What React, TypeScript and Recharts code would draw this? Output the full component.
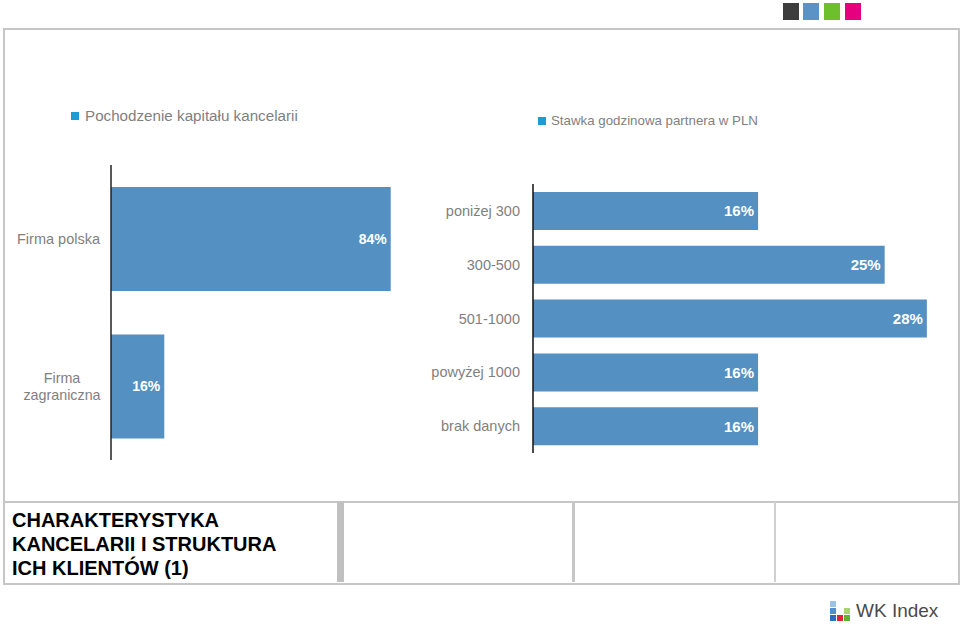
import { Bar, BarChart, LabelList, XAxis, YAxis } from 'recharts'

const capitalCategories = ['Firma polska', 'Firma zagraniczna']
const capitalShares = [84, 16]

const rateCategories = ['poniżej 300', '300-500', '501-1000', 'powyżej 1000', 'brak danych']
const rateShares = [16, 25, 28, 16, 16]

const BAR_COLOR = '#5590c2'
const TEXT_GRAY = '#7f7f7f'
const FONT = 'Arial, "Liberation Sans", sans-serif'

const capitalData = capitalCategories.map((name, i) => ({ name, value: capitalShares[i] }))
const rateData = rateCategories.map((name, i) => ({ name, value: rateShares[i] }))

// labels longer than one line get split on spaces and centred
function CategoryTick(props: any) {
    const { x, y, payload } = props
    const text: string = payload.value
    if (text.length > 14) {
        const lines = text.split(' ')
        return (
            <text x={x - 38} y={y} textAnchor="middle" fill={TEXT_GRAY} fontSize={14.3} fontFamily={FONT}>
                {lines.map((line, i) => (
                    <tspan key={i} x={x - 38} y={y + (i - (lines.length - 1) / 2) * 17} dominantBaseline="central">
                        {line}
                    </tspan>
                ))}
            </text>
        )
    }
    return (
        <text x={x} y={y} textAnchor="end" dominantBaseline="central" fill={TEXT_GRAY} fontSize={14.5} fontFamily={FONT}>
            {text}
        </text>
    )
}

const pct = (v: any) => `${v}%`

function Square({ left, top, size, color }: { left: number; top: number; size: number; color: string }) {
    return <div style={{ position: 'absolute', left, top, width: size, height: size, background: color }} />
}

export default function App() {
    return (
        <div style={{ position: 'absolute', left: 0, top: 0, width: 960, height: 626, background: '#fff', fontFamily: FONT, overflow: 'hidden' }}>
            {/* colour squares top right */}
            <div style={{ position: 'absolute', left: 783, top: 3, width: 16, height: 17, background: '#3d3d3d' }} />
            <div style={{ position: 'absolute', left: 803, top: 3, width: 16, height: 17, background: '#5b93c7' }} />
            <div style={{ position: 'absolute', left: 824, top: 3, width: 16, height: 17, background: '#6dbf2e' }} />
            <div style={{ position: 'absolute', left: 845, top: 3, width: 16, height: 17, background: '#e6007e' }} />

            {/* frame */}
            <div style={{ position: 'absolute', left: 3, top: 28, width: 953, height: 553, border: '2px solid #c6c6c6' }} />
            <div style={{ position: 'absolute', left: 3, top: 501, width: 955, height: 2, background: '#c6c6c6' }} />
            <div style={{ position: 'absolute', left: 337, top: 502, width: 7, height: 80, background: '#c0c0c0' }} />
            <div style={{ position: 'absolute', left: 572, top: 502, width: 3, height: 80, background: '#c6c6c6' }} />
            <div style={{ position: 'absolute', left: 774, top: 502, width: 2, height: 80, background: '#d0d0d0' }} />

            {/* titles */}
            <Square left={71} top={112} size={8} color="#1c9bd6" />
            <div style={{ position: 'absolute', left: 85, top: 107, fontSize: 15.2, color: TEXT_GRAY, whiteSpace: 'nowrap' }}>
                Pochodzenie kapitału kancelarii
            </div>
            <Square left={538} top={117} size={8} color="#1c9bd6" />
            <div style={{ position: 'absolute', left: 551, top: 113, fontSize: 13.3, color: TEXT_GRAY, whiteSpace: 'nowrap' }}>
                Stawka godzinowa partnera w PLN
            </div>

            {/* left chart */}
            <div style={{ position: 'absolute', left: 0, top: 160 }}>
                <BarChart width={460} height={305} data={capitalData} layout="vertical" margin={{ top: 5, right: 16, bottom: 5, left: 0 }}>
                    <XAxis type="number" domain={[0, 100]} hide />
                    <YAxis
                        type="category"
                        dataKey="name"
                        width={111}
                        tickSize={0}
                        tickMargin={11}
                        tickLine={false}
                        axisLine={{ stroke: '#222', strokeWidth: 1.5 }}
                        tick={<CategoryTick />}
                    />
                    <Bar dataKey="value" fill={BAR_COLOR} barSize={104} isAnimationActive={false}>
                        <LabelList dataKey="value" position="insideRight" offset={4} formatter={pct} fill="#fff" fontSize={14} fontWeight="bold" fontFamily={FONT} />
                    </Bar>
                </BarChart>
            </div>

            {/* right chart */}
            <div style={{ position: 'absolute', left: 420, top: 170 }}>
                <BarChart width={540} height={290} data={rateData} layout="vertical" margin={{ top: 14, right: 5, bottom: 7, left: 0 }}>
                    <XAxis type="number" domain={[0, 30]} hide />
                    <YAxis
                        type="category"
                        dataKey="name"
                        width={113}
                        tickSize={0}
                        tickMargin={13}
                        tickLine={false}
                        axisLine={{ stroke: '#111', strokeWidth: 1.5 }}
                        tick={<CategoryTick />}
                    />
                    <Bar dataKey="value" fill={BAR_COLOR} barSize={38} isAnimationActive={false}>
                        <LabelList dataKey="value" position="insideRight" offset={4} formatter={pct} fill="#fff" fontSize={15} fontWeight="bold" fontFamily={FONT} />
                    </Bar>
                </BarChart>
            </div>

            {/* section caption */}
            <div style={{ position: 'absolute', left: 12, top: 508, fontSize: 20, fontWeight: 'bold', lineHeight: '24px', color: '#000' }}>
                CHARAKTERYSTYKA
                <br />
                KANCELARII I STRUKTURA
                <br />
                ICH KLIENTÓW (1)
            </div>

            {/* logo */}
            <Square left={830} top={601} size={6} color="#9cc3e6" />
            <Square left={830} top={608} size={6} color="#4f8fd0" />
            <Square left={830} top={615} size={6} color="#2a6db8" />
            <Square left={837} top={615} size={6} color="#e2233b" />
            <Square left={844} top={608} size={6} color="#a9d46f" />
            <Square left={844} top={615} size={6} color="#62b22f" />
            <div style={{ position: 'absolute', left: 856, top: 600, fontSize: 19, color: '#4a4a4a', whiteSpace: 'nowrap' }}>
                WK Index
            </div>
        </div>
    )
}
